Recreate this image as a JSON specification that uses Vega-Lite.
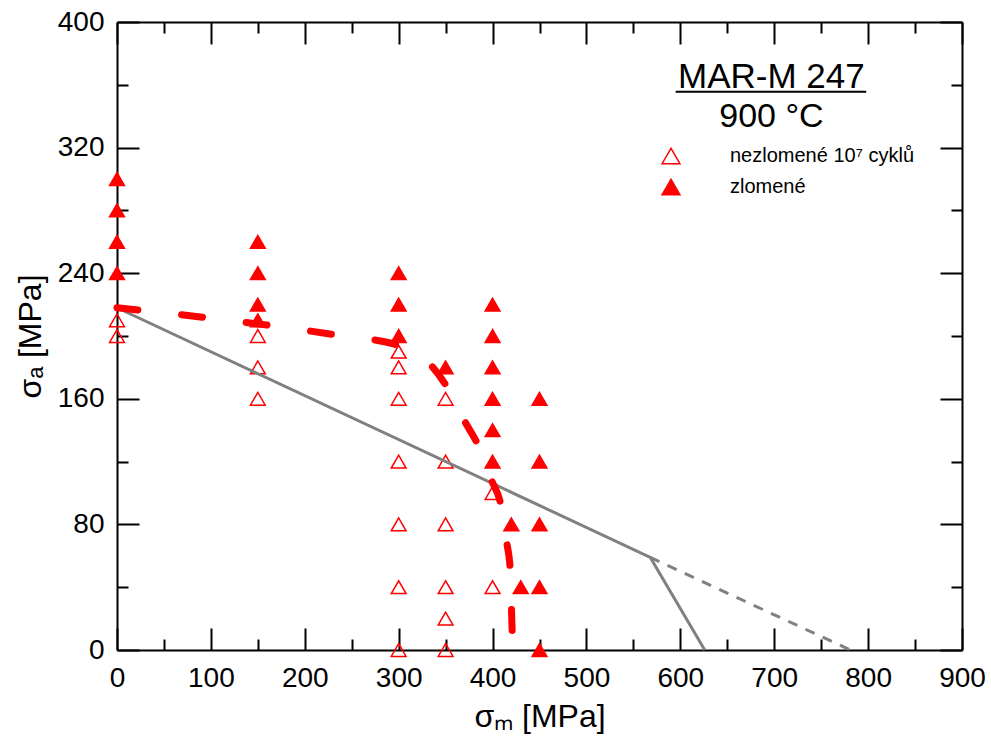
{
  "$schema": "https://vega.github.io/schema/vega-lite/v6.json",
  "width": 845,
  "height": 628,
  "autosize": {"type": "none"},
  "padding": {"left": 117, "top": 22, "right": 29, "bottom": 90},
  "background": "white",
  "config": {
    "view": {"stroke": null},
    "font": "Liberation Sans",
    "axis": {
      "domainColor": "black",
      "domainWidth": 2,
      "tickColor": "black",
      "tickWidth": 2,
      "grid": false,
      "labelFont": "Liberation Sans",
      "labelFontSize": 28,
      "labelColor": "black",
      "titleFont": "Liberation Sans",
      "titleFontSize": 32,
      "titleFontWeight": "normal",
      "titleColor": "black"
    }
  },
  "datasets": {
    "points": [
      {"sigma_m": 0, "sigma_a": 210, "status": "nezlomené 10⁷ cyklů"},
      {"sigma_m": 0, "sigma_a": 200, "status": "nezlomené 10⁷ cyklů"},
      {"sigma_m": 150, "sigma_a": 200, "status": "nezlomené 10⁷ cyklů"},
      {"sigma_m": 150, "sigma_a": 180, "status": "nezlomené 10⁷ cyklů"},
      {"sigma_m": 150, "sigma_a": 160, "status": "nezlomené 10⁷ cyklů"},
      {"sigma_m": 300, "sigma_a": 190, "status": "nezlomené 10⁷ cyklů"},
      {"sigma_m": 300, "sigma_a": 180, "status": "nezlomené 10⁷ cyklů"},
      {"sigma_m": 300, "sigma_a": 160, "status": "nezlomené 10⁷ cyklů"},
      {"sigma_m": 300, "sigma_a": 120, "status": "nezlomené 10⁷ cyklů"},
      {"sigma_m": 300, "sigma_a": 80, "status": "nezlomené 10⁷ cyklů"},
      {"sigma_m": 300, "sigma_a": 40, "status": "nezlomené 10⁷ cyklů"},
      {"sigma_m": 300, "sigma_a": 0, "status": "nezlomené 10⁷ cyklů"},
      {"sigma_m": 350, "sigma_a": 160, "status": "nezlomené 10⁷ cyklů"},
      {"sigma_m": 350, "sigma_a": 120, "status": "nezlomené 10⁷ cyklů"},
      {"sigma_m": 350, "sigma_a": 80, "status": "nezlomené 10⁷ cyklů"},
      {"sigma_m": 350, "sigma_a": 40, "status": "nezlomené 10⁷ cyklů"},
      {"sigma_m": 350, "sigma_a": 20, "status": "nezlomené 10⁷ cyklů"},
      {"sigma_m": 350, "sigma_a": 0, "status": "nezlomené 10⁷ cyklů"},
      {"sigma_m": 400, "sigma_a": 100, "status": "nezlomené 10⁷ cyklů"},
      {"sigma_m": 400, "sigma_a": 40, "status": "nezlomené 10⁷ cyklů"},
      {"sigma_m": 0, "sigma_a": 300, "status": "zlomené"},
      {"sigma_m": 0, "sigma_a": 280, "status": "zlomené"},
      {"sigma_m": 0, "sigma_a": 260, "status": "zlomené"},
      {"sigma_m": 0, "sigma_a": 240, "status": "zlomené"},
      {"sigma_m": 150, "sigma_a": 260, "status": "zlomené"},
      {"sigma_m": 150, "sigma_a": 240, "status": "zlomené"},
      {"sigma_m": 150, "sigma_a": 220, "status": "zlomené"},
      {"sigma_m": 150, "sigma_a": 210, "status": "zlomené"},
      {"sigma_m": 300, "sigma_a": 240, "status": "zlomené"},
      {"sigma_m": 300, "sigma_a": 220, "status": "zlomené"},
      {"sigma_m": 300, "sigma_a": 200, "status": "zlomené"},
      {"sigma_m": 350, "sigma_a": 180, "status": "zlomené"},
      {"sigma_m": 400, "sigma_a": 220, "status": "zlomené"},
      {"sigma_m": 400, "sigma_a": 200, "status": "zlomené"},
      {"sigma_m": 400, "sigma_a": 180, "status": "zlomené"},
      {"sigma_m": 400, "sigma_a": 160, "status": "zlomené"},
      {"sigma_m": 400, "sigma_a": 140, "status": "zlomené"},
      {"sigma_m": 400, "sigma_a": 120, "status": "zlomené"},
      {"sigma_m": 420, "sigma_a": 80, "status": "zlomené"},
      {"sigma_m": 430, "sigma_a": 40, "status": "zlomené"},
      {"sigma_m": 450, "sigma_a": 160, "status": "zlomené"},
      {"sigma_m": 450, "sigma_a": 120, "status": "zlomené"},
      {"sigma_m": 450, "sigma_a": 80, "status": "zlomené"},
      {"sigma_m": 450, "sigma_a": 40, "status": "zlomené"},
      {"sigma_m": 450, "sigma_a": 0, "status": "zlomené"}
    ],
    "gray_solid": [
      {"sigma_m": 0, "sigma_a": 218},
      {"sigma_m": 568, "sigma_a": 59},
      {"sigma_m": 626, "sigma_a": 0}
    ],
    "gray_dash": [
      {"sigma_m": 568, "sigma_a": 59},
      {"sigma_m": 781, "sigma_a": 0}
    ],
    "red": [
      {"sigma_m": 0, "sigma_a": 218},
      {"sigma_m": 235, "sigma_a": 200.5},
      {"sigma_m": 300, "sigma_a": 194},
      {"sigma_m": 335, "sigma_a": 181},
      {"sigma_m": 352, "sigma_a": 167},
      {"sigma_m": 371, "sigma_a": 145},
      {"sigma_m": 385, "sigma_a": 130},
      {"sigma_m": 399, "sigma_a": 108},
      {"sigma_m": 409, "sigma_a": 92},
      {"sigma_m": 415, "sigma_a": 69},
      {"sigma_m": 419, "sigma_a": 50},
      {"sigma_m": 420, "sigma_a": 29},
      {"sigma_m": 421, "sigma_a": 10}
    ],
    "one": [{}]
  },
  "layer": [
    {
      "data": {"name": "points"},
      "mark": {"type": "point", "shape": "triangle-up", "stroke": "red", "strokeWidth": 1.5, "size": 220, "opacity": 1},
      "encoding": {
        "x": {
          "field": "sigma_m", "type": "quantitative",
          "scale": {"domain": [0, 900], "nice": false, "zero": false},
          "axis": {
            "orient": "bottom",
            "title": "σₘ [MPa]",
            "values": [0, 50, 100, 150, 200, 250, 300, 350, 400, 450, 500, 550, 600, 650, 700, 750, 800, 850, 900],
            "labelExpr": "datum.value % 100 === 0 ? datum.label : ''",
            "tickSize": {"condition": {"test": "datum.value % 100 === 0", "value": -22}, "value": -11},
            "labelPadding": 36,
            "titlePadding": -2,
            "labelFlush": false,
            "labelOverlap": false
          }
        },
        "y": {
          "field": "sigma_a", "type": "quantitative",
          "scale": {"domain": [0, 400], "nice": false, "zero": false},
          "axis": {
            "orient": "left",
            "title": "σₐ [MPa]",
            "values": [0, 40, 80, 120, 160, 200, 240, 280, 320, 360, 400],
            "labelExpr": "datum.value % 80 === 0 ? datum.label : ''",
            "tickSize": {"condition": {"test": "datum.value % 80 === 0", "value": -22}, "value": -11},
            "labelPadding": 35,
            "titlePadding": 10,
            "labelFlush": false,
            "labelOverlap": false
          }
        },
        "fill": {
          "field": "status", "type": "nominal",
          "scale": {"domain": ["nezlomené 10⁷ cyklů", "zlomené"], "range": ["rgba(255,255,255,0)", "red"]},
          "legend": {
            "title": null,
            "orient": "none",
            "legendX": 544,
            "legendY": 124,
            "symbolType": "triangle-up",
            "symbolSize": 320,
            "symbolStrokeColor": "red",
            "symbolStrokeWidth": 1.5,
            "labelFont": "Liberation Sans",
            "labelFontSize": 20,
            "labelColor": "black",
            "labelLimit": 0,
            "labelOffset": 49,
            "rowPadding": 9
          }
        }
      }
    },
    {
      "data": {"name": "gray_solid"},
      "mark": {"type": "line", "color": "#808080", "strokeWidth": 3},
      "encoding": {
        "x": {
          "field": "sigma_m", "type": "quantitative",
          "axis": {
            "orient": "top", "title": null, "labels": false,
            "values": [0, 50, 100, 150, 200, 250, 300, 350, 400, 450, 500, 550, 600, 650, 700, 750, 800, 850, 900],
            "tickSize": {"condition": {"test": "datum.value % 100 === 0", "value": -22}, "value": -11}
          }
        },
        "y": {
          "field": "sigma_a", "type": "quantitative",
          "axis": {
            "orient": "right", "title": null, "labels": false,
            "values": [0, 40, 80, 120, 160, 200, 240, 280, 320, 360, 400],
            "tickSize": {"condition": {"test": "datum.value % 80 === 0", "value": -22}, "value": -11}
          }
        }
      }
    },
    {
      "data": {"name": "gray_dash"},
      "mark": {"type": "line", "color": "#808080", "strokeWidth": 3, "strokeDash": [10, 9]},
      "encoding": {
        "x": {"field": "sigma_m", "type": "quantitative", "axis": null},
        "y": {"field": "sigma_a", "type": "quantitative", "axis": null}
      }
    },
    {
      "data": {"name": "red"},
      "mark": {"type": "line", "color": "red", "strokeWidth": 7, "strokeCap": "round", "strokeDash": [21, 44], "interpolate": "monotone"},
      "encoding": {
        "x": {"field": "sigma_m", "type": "quantitative", "axis": null},
        "y": {"field": "sigma_a", "type": "quantitative", "axis": null}
      }
    },
    {
      "data": {"name": "one"},
      "mark": {"type": "text", "text": "MAR-M 247", "font": "Liberation Sans", "fontSize": 35, "align": "center", "baseline": "alphabetic", "color": "black"},
      "encoding": {
        "x": {"datum": 697, "type": "quantitative", "axis": null},
        "y": {"datum": 358, "type": "quantitative", "axis": null}
      }
    },
    {
      "data": {"name": "one"},
      "mark": {"type": "text", "text": "900 °C", "font": "Liberation Sans", "fontSize": 34, "align": "center", "baseline": "alphabetic", "color": "black"},
      "encoding": {
        "x": {"datum": 697, "type": "quantitative", "axis": null},
        "y": {"datum": 333, "type": "quantitative", "axis": null}
      }
    },
    {
      "data": {"name": "one"},
      "mark": {"type": "rule", "color": "black", "strokeWidth": 2},
      "encoding": {
        "x": {"datum": 595, "type": "quantitative", "axis": null},
        "x2": {"datum": 798},
        "y": {"datum": 355.5, "type": "quantitative", "axis": null}
      }
    }
  ],
  "resolve": {"axis": {"x": "independent", "y": "independent"}}
}
